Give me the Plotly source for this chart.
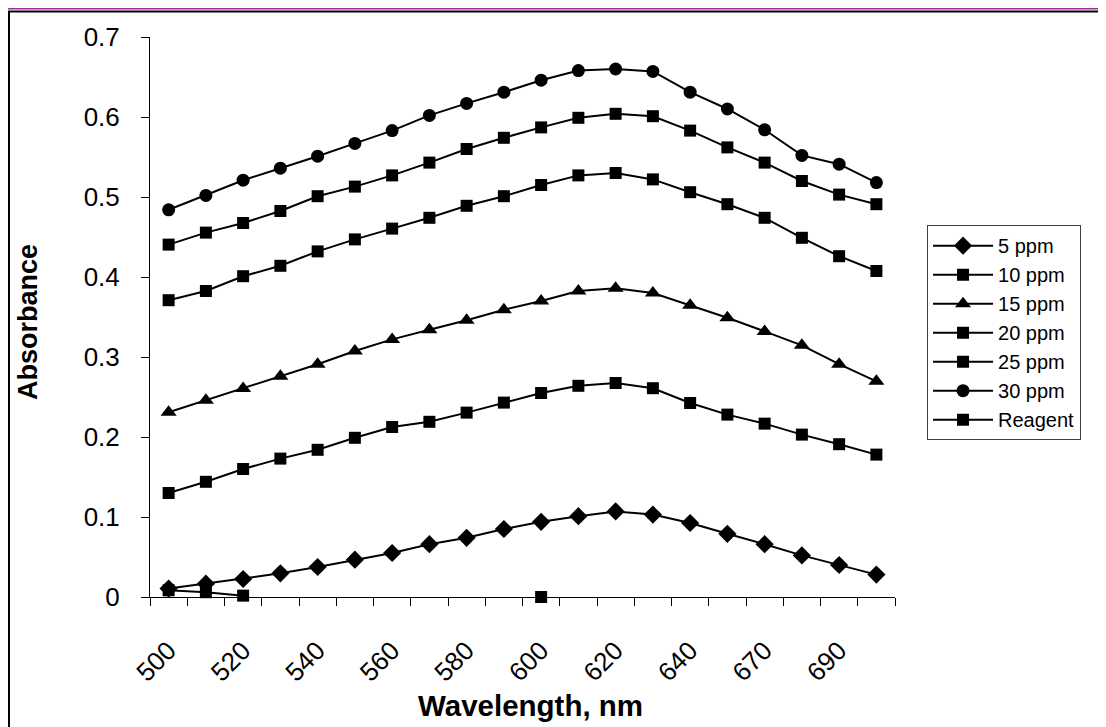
import plotly.graph_objects as go

# ---- data ----
wavelengths = ["500", "510", "520", "530", "540", "550", "560", "570", "580", "590",
               "600", "610", "620", "630", "640", "650", "670", "680", "690", "700"]
tick_labels = ["500", "", "520", "", "540", "", "560", "", "580", "",
               "600", "", "620", "", "640", "", "670", "", "690", ""]

ppm5 = [0.0105, 0.0167, 0.0225, 0.0296, 0.0375, 0.0467, 0.055, 0.066, 0.074, 0.085,
        0.094, 0.101, 0.107, 0.103, 0.0925, 0.079, 0.066, 0.052, 0.040, 0.028]
ppm10 = [0.130, 0.144, 0.160, 0.173, 0.184, 0.199, 0.2125, 0.219, 0.2305, 0.243,
         0.255, 0.264, 0.2675, 0.261, 0.2425, 0.228, 0.2167, 0.203, 0.191, 0.178]
ppm15 = [0.231, 0.246, 0.2605, 0.276, 0.291, 0.3075, 0.322, 0.334, 0.346, 0.359,
         0.370, 0.3825, 0.386, 0.380, 0.3646, 0.349, 0.332, 0.3146, 0.291, 0.2696]
ppm20 = [0.371, 0.3825, 0.401, 0.414, 0.432, 0.447, 0.4605, 0.474, 0.489, 0.501,
         0.515, 0.527, 0.530, 0.522, 0.506, 0.491, 0.474, 0.449, 0.426, 0.4075]
ppm25 = [0.4405, 0.4555, 0.4675, 0.4825, 0.501, 0.513, 0.527, 0.543, 0.560, 0.574,
         0.587, 0.599, 0.604, 0.601, 0.583, 0.562, 0.543, 0.520, 0.503, 0.491]
ppm30 = [0.484, 0.502, 0.521, 0.536, 0.551, 0.567, 0.583, 0.602, 0.617, 0.631,
         0.646, 0.658, 0.660, 0.657, 0.631, 0.610, 0.584, 0.552, 0.541, 0.518]
reagent = [0.0084, 0.006, 0.0017, None, None, None, None, None, None, None,
           0.0, None, None, None, None, None, None, None, None, None]

series = [
    ("5 ppm", ppm5, "diamond", 14),
    ("10 ppm", ppm10, "square", 12),
    ("15 ppm", ppm15, "triangle-up", 14),
    ("20 ppm", ppm20, "square", 12),
    ("25 ppm", ppm25, "square", 12),
    ("30 ppm", ppm30, "circle", 13),
    ("Reagent", reagent, "square", 12),
]

FONT = "Liberation Sans, Arial, sans-serif"

fig = go.Figure()
for name, vals, sym, sz in series:
    fig.add_trace(go.Scatter(
        x=wavelengths, y=vals, name=name, mode="lines+markers",
        line=dict(color="black", width=2),
        marker=dict(symbol=sym, size=sz, color="black", line=dict(width=0)),
        connectgaps=False, cliponaxis=False,
    ))

# the page body adds an 8px offset, so margins are reduced by 8px on left/top
fig.update_layout(
    template="none",
    width=1106, height=727,
    margin=dict(l=142, r=219, t=29, b=138, pad=0, autoexpand=False),
    paper_bgcolor="white", plot_bgcolor="white",
    font=dict(family=FONT, color="black", size=24),
    showlegend=True,
    legend=dict(
        x=1.043, y=0.664, xanchor="left", yanchor="top",
        bordercolor="#404040", borderwidth=1, bgcolor="white",
        font=dict(family=FONT, size=20, color="black"),
        tracegroupgap=0, itemwidth=60,
    ),
    xaxis=dict(
        type="category", tickmode="array", tickvals=wavelengths, ticktext=tick_labels,
        range=[-0.5, 19.5], autorange=False,
        tickson="boundaries", ticks="outside", ticklen=8, tickcolor="black",
        tickangle=-45, showline=True, linecolor="black", linewidth=1,
        showgrid=False, zeroline=False, tickfont=dict(size=26),
        ticklabelstandoff=27, automargin=False,
    ),
    yaxis=dict(
        range=[0, 0.7], autorange=False, dtick=0.1, ticks="outside", ticklen=8,
        tickcolor="black", showline=True, linecolor="black", linewidth=1,
        showgrid=False, zeroline=False, tickfont=dict(size=26),
        ticklabelstandoff=16, automargin=False,
    ),
    annotations=[
        dict(text="<b>Wavelength, nm</b>", xref="paper", yref="paper",
             x=0.5114, y=-0.1929, xanchor="center", yanchor="middle",
             showarrow=False, font=dict(size=29.5, family=FONT)),
        dict(text="<b>Absorbance</b>", xref="paper", yref="paper",
             x=-0.1638, y=0.491, xanchor="center", yanchor="middle", textangle=-90,
             showarrow=False, font=dict(size=27, family=FONT)),
    ],
    shapes=[
        dict(type="line", xref="paper", yref="paper", x0=-0.25, x1=1.35,
             y0=1.04554, y1=1.04554, line=dict(color="black", width=2)),
        dict(type="line", xref="paper", yref="paper", x0=-0.1893, x1=-0.1893,
             y0=1.04554, y1=-0.3, line=dict(color="black", width=2)),
        dict(type="line", xref="paper", yref="paper", x0=-0.25, x1=1.35,
             y0=1.05045, y1=1.05045, line=dict(color="#A02CA0", width=1.5)),
    ],
)

fig.write_html("out.html")
